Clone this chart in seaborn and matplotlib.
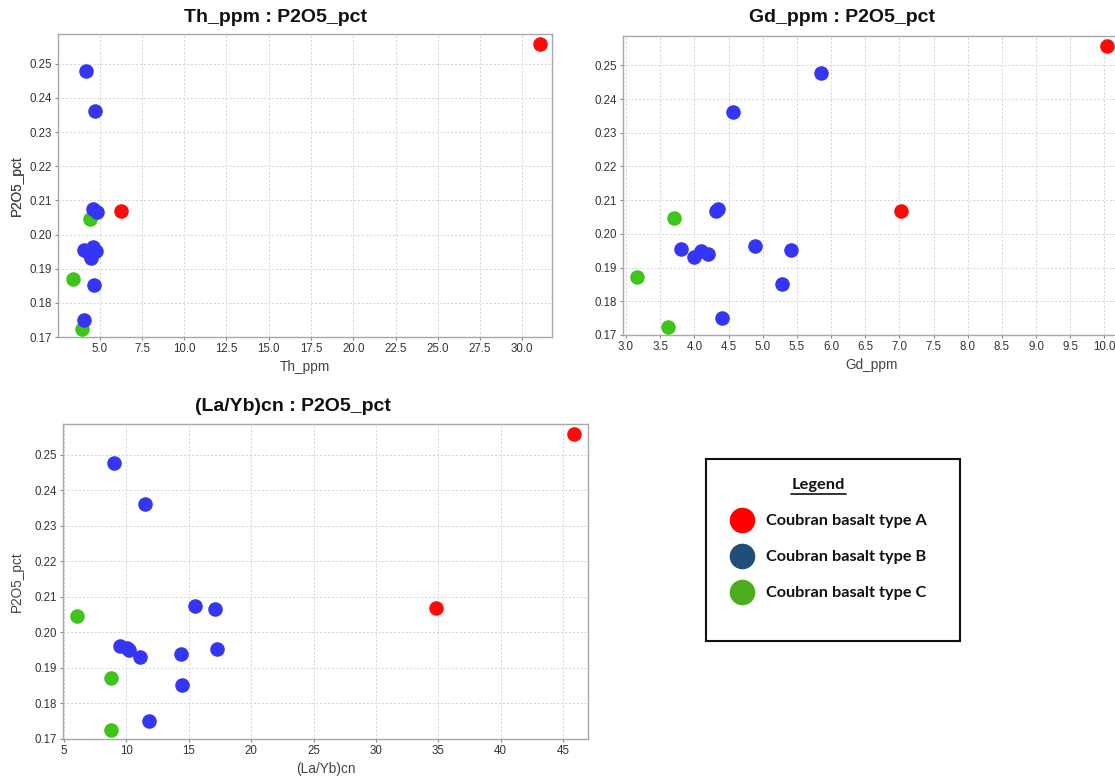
import numpy as np
import pandas as pd
import matplotlib
matplotlib.use("Agg")
import matplotlib.pyplot as plt
import seaborn as sns

# ---------------- data ----------------
basalt_type = ["A", "A",
               "B", "B", "B", "B", "B", "B", "B", "B", "B", "B", "B", "B",
               "C", "C", "C"]
p2o5_pct = [0.2558, 0.2069,
            0.2478, 0.2362, 0.2074, 0.2067, 0.1963, 0.1955, 0.1950, 0.1953,
            0.1939, 0.1931, 0.1851, 0.1750,
            0.2046, 0.1871, 0.1724]
th_ppm = [31.03, 6.27,
          4.17, 4.73, 4.60, 4.81, 4.62, 4.06, 4.30, 4.76, 4.45, 4.49, 4.64, 4.06,
          4.43, 3.43, 3.96]
gd_ppm = [10.03, 7.02,
          5.86, 4.56, 4.345, 4.31, 4.88, 3.80, 4.10, 5.42, 4.205, 4.00, 5.28, 4.41,
          3.70, 3.155, 3.62]
la_yb_cn = [45.9, 34.8,
            9.0, 11.47, 15.48, 17.11, 9.5, 10.02, 10.18, 17.26, 14.37, 11.07, 14.46, 11.78,
            6.08, 8.79, 8.79]

legend_labels = ["Coubran basalt type A", "Coubran basalt type B", "Coubran basalt type C"]

df = pd.DataFrame({"type": basalt_type, "P2O5_pct": p2o5_pct, "Th_ppm": th_ppm,
                   "Gd_ppm": gd_ppm, "(La/Yb)cn": la_yb_cn})

plot_palette = {"A": "#ff0a0a", "B": "#3535f5", "C": "#3ec41a"}
legend_palette = {"A": "#ff0000", "B": "#1f4e79", "C": "#4aae1f"}

# ---------------- figure ----------------
sns.set_theme(style="white")
plt.rcParams["font.family"] = ["Liberation Sans", "DejaVu Sans"]

W, H = 1115, 779
fig = plt.figure(figsize=(W / 100, H / 100), dpi=100)
fig.patch.set_facecolor("white")


def add_ax(l, r, t, b):
    return fig.add_axes([l / W, 1 - b / H, (r - l) / W, (b - t) / H])


panels = [
    dict(x="Th_ppm", box=(58, 552, 34, 337), xlim=(2.53, 31.76),
         xticks=np.arange(5.0, 30.01, 2.5), fmt="%.1f",
         title="Th_ppm : P2O5_pct", tpos=(276, 17), xlab_y=367, xlab_x=0.5),
    dict(x="Gd_ppm", box=(623, 1140, 36, 335), xlim=(2.956, 10.52),
         xticks=np.arange(3.0, 10.01, 0.5), fmt="%.1f",
         title="Gd_ppm : P2O5_pct", tpos=(842, 17), xlab_y=365,
         xlab_x=(872 - 623) / (1140 - 623)),
    dict(x="(La/Yb)cn", box=(63, 588, 424, 739), xlim=(4.92, 47.0),
         xticks=np.arange(5, 46, 5), fmt="%d",
         title="(La/Yb)cn : P2O5_pct", tpos=(293, 407), xlab_y=769, xlab_x=0.5),
]

order = ["C", "B", "A"]
for p in panels:
    l, r, t, b = p["box"]
    ax = add_ax(l, r, t, b)
    for k in order:
        sub = df[df["type"] == k]
        sns.scatterplot(data=sub, x=p["x"], y="P2O5_pct", ax=ax, color=plot_palette[k],
                        s=110, linewidth=0, legend=False, zorder=3)
    ax.set_xlim(*p["xlim"])
    ax.set_ylim(0.17, 0.2587)
    ax.set_xticks(p["xticks"])
    ax.set_yticks(np.arange(0.17, 0.2501, 0.01))
    ax.xaxis.set_major_formatter(matplotlib.ticker.FormatStrFormatter(p["fmt"]))
    ax.yaxis.set_major_formatter(matplotlib.ticker.FormatStrFormatter("%.2f"))
    ax.grid(True, color="#d4d4d4", linestyle=(0, (2, 2)), linewidth=0.7)
    ax.set_axisbelow(True)
    for s in ax.spines.values():
        s.set_color("#a8a8a8")
        s.set_linewidth(1.0)
    ax.tick_params(axis="both", direction="out", length=2.5, width=0.8, color="#888888",
                   labelsize=8.3, labelcolor="#333333", pad=2, bottom=True, left=True)
    ax.set_xlabel(p["x"], fontsize=9.8, color="#444444")
    ax.set_ylabel("P2O5_pct", fontsize=9.8, color="#444444")
    ax.xaxis.label.set_va("center")
    ax.xaxis.set_label_coords(p["xlab_x"], -(p["xlab_y"] - b) / (b - t))
    ax.yaxis.label.set_va("center")
    ax.yaxis.set_label_coords(-(l - 17) / (r - l), 0.5)
    fig.text(p["tpos"][0] / W, 1 - p["tpos"][1] / H, p["title"], ha="center", va="center",
             fontsize=14, fontweight="bold", color="#111111")

# ---------------- legend box ----------------
lx0, lx1, ly0, ly1 = 706, 960, 459, 641
lax = add_ax(lx0, lx1, ly0, ly1)
lax.set_xlim(lx0, lx1)
lax.set_ylim(ly1, ly0)
lax.set_xticks([])
lax.set_yticks([])
lax.set_facecolor("white")
for s in lax.spines.values():
    s.set_color("#111111")
    s.set_linewidth(1.5)

lax.text(818, 485, "Legend", ha="center", va="center", fontsize=11.8, fontweight="bold",
         family=["Lato", "DejaVu Sans"], color="#111111")
lax.plot([791, 846], [494, 494], color="#111111", linewidth=1.2)
for i, (k, lab) in enumerate(zip(["A", "B", "C"], legend_labels)):
    yy = 520 + 36 * i
    lax.scatter([742], [yy], s=340, color=legend_palette[k], linewidth=0)
    lax.text(766, yy + 1, lab, ha="left", va="center", fontsize=11.7, fontweight="bold",
             family=["Lato", "DejaVu Sans"], color="#111111")

fig.savefig("out.png", dpi=100, facecolor="white")
